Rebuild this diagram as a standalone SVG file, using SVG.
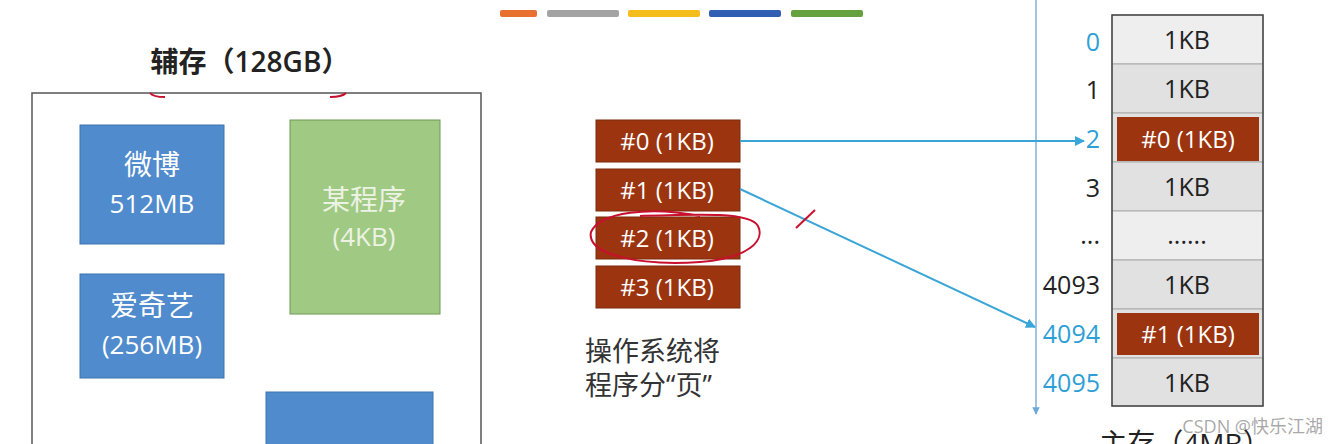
<svg xmlns="http://www.w3.org/2000/svg" width="1338" height="444" viewBox="0 0 1338 444">
<style>
.t{font-family:"Open Sans","Noto Sans CJK SC",sans-serif}
.blue{fill:#4f8bcd;stroke:#3f74ad;stroke-width:1}
.wt{fill:#fff;font-size:26px;text-anchor:middle}
.wc{fill:#fff;font-size:28px;text-anchor:middle}
.pg{fill:#9c3410;stroke:#7a2a0e;stroke-width:1}
.pt{fill:#fff;font-size:24px;text-anchor:middle}
.cell{fill:#e1e1e1;stroke:#aaa;stroke-width:1}
.ct{fill:#222;font-size:25px;text-anchor:middle}
.addr{font-size:25px;text-anchor:end;fill:#222}
.ab{fill:#2e9fd6}
.conn{stroke:#3aa6d8;stroke-width:2;fill:none}
.red{stroke:#c8102e;stroke-width:2;fill:none}
</style>
<defs>
<marker id="ah" viewBox="0 0 10 10" refX="9" refY="5" markerWidth="5" markerHeight="5" orient="auto"><path d="M0,0L10,5L0,10z" fill="#3aa6d8"/></marker>
<marker id="ah2" viewBox="0 0 10 10" refX="9" refY="5" markerWidth="5" markerHeight="5" orient="auto"><path d="M0,0L10,5L0,10z" fill="#6aa8d8"/></marker>
</defs>
<rect width="1338" height="444" fill="#fff"/>
<g id="legend-bars">
<rect x="500" y="10" width="37" height="7" rx="2" fill="#e9712f"/>
<rect x="547" y="10" width="72" height="7" rx="2" fill="#a3a3a3"/>
<rect x="628" y="10" width="72" height="7" rx="2" fill="#f5bd1b"/>
<rect x="709" y="10" width="72" height="7" rx="2" fill="#2f5eb3"/>
<rect x="791" y="10" width="72" height="7" rx="2" fill="#65a13e"/>
</g>
<g id="secondary-storage">
<text class="t" x="250" y="72" font-size="28" font-weight="600" fill="#222" text-anchor="middle">辅存（128GB）</text>
<path d="M32,444V93H481V444" fill="none" stroke="#555" stroke-width="1.5"/>
<path class="red" d="M150,93Q153,97 165,97M330,97Q342,97 346,93"/>
</g>
<g id="weibo"><rect class="blue" x="80" y="125" width="144" height="119"/><text class="t wc" x="152" y="175">微博</text><text class="t wt" x="152" y="213">512MB</text></g>
<g id="iqiyi"><rect class="blue" x="80" y="274" width="144" height="104"/><text class="t wc" x="152" y="316">爱奇艺</text><text class="t wt" x="152" y="354">(256MB)</text></g>
<g id="program"><rect x="290" y="120" width="150" height="194" fill="#a0c983" stroke="#6f9a55" stroke-width="1"/><text class="t wc" x="364" y="210" style="fill:#edf3e4">某程序</text><text class="t wt" x="364" y="246" style="fill:#edf3e4">(4KB)</text></g>
<g id="other-app"><rect class="blue" x="266" y="392" width="167" height="60"/></g>
<g id="pages">
<g id="page0"><rect class="pg" x="596" y="120" width="144" height="42"/><text class="t pt" x="667" y="150">#0 (1KB)</text></g>
<g id="page1"><rect class="pg" x="596" y="169" width="144" height="42"/><text class="t pt" x="667" y="199">#1 (1KB)</text></g>
<g id="page2"><rect class="pg" x="596" y="217" width="144" height="42"/><text class="t pt" x="667" y="247">#2 (1KB)</text></g>
<g id="page3"><rect class="pg" x="596" y="266" width="144" height="42"/><text class="t pt" x="667" y="296">#3 (1KB)</text></g>
<path class="red" d="M700,216C650,206 600,212 591,232C586,255 640,266 700,262C750,258 765,240 758,226C750,212 700,214 640,216"/>
</g>
<g id="caption-pages"><text class="t" font-size="27" fill="#333" x="585" y="361">操作系统将</text><text class="t" font-size="27" fill="#333" x="585" y="395">程序分“页”</text></g>
<g id="connectors">
<line x1="1036" y1="0" x2="1036" y2="414" stroke="#7fb2d9" stroke-width="1.5" marker-end="url(#ah2)"/>
<line class="conn" x1="740" y1="141" x2="1084" y2="141" marker-end="url(#ah)"/>
<line class="conn" x1="740" y1="189" x2="1035" y2="327" marker-end="url(#ah)"/>
<line class="red" x1="796" y1="228" x2="815" y2="210"/>
</g>
<g id="addresses">
<text class="t addr ab" x="1100" y="51">0</text>
<text class="t addr" x="1100" y="99">1</text>
<text class="t addr ab" x="1100" y="148">2</text>
<text class="t addr" x="1100" y="197">3</text>
<text class="t addr" x="1100" y="244">...</text>
<text class="t addr" x="1100" y="294">4093</text>
<text class="t addr ab" x="1100" y="343">4094</text>
<text class="t addr ab" x="1100" y="392">4095</text>
</g>
<g id="main-memory">
<rect class="cell" x="1112" y="15" width="151" height="49" style="fill:#eeeeee"/>
<rect class="cell" x="1112" y="64" width="151" height="49"/>
<rect class="cell" x="1112" y="113" width="151" height="49"/>
<rect class="cell" x="1112" y="162" width="151" height="49"/>
<rect class="cell" x="1112" y="211" width="151" height="49" style="fill:#eeeeee"/>
<rect class="cell" x="1112" y="260" width="151" height="49"/>
<rect class="cell" x="1112" y="309" width="151" height="49"/>
<rect class="cell" x="1112" y="358" width="151" height="48"/>
<rect x="1117" y="117" width="142" height="44" fill="#9c3410"/>
<rect x="1117" y="313" width="142" height="42" fill="#9c3410"/>
<rect x="1112" y="15" width="151" height="391" fill="none" stroke="#444" stroke-width="1.5"/>
<text class="t ct" x="1187" y="49">1KB</text>
<text class="t ct" x="1187" y="98">1KB</text>
<text class="t pt" x="1188" y="148">#0 (1KB)</text>
<text class="t ct" x="1187" y="196">1KB</text>
<text class="t ct" x="1187" y="244">......</text>
<text class="t ct" x="1187" y="294">1KB</text>
<text class="t pt" x="1188" y="343">#1 (1KB)</text>
<text class="t ct" x="1187" y="392">1KB</text>
<text class="t" x="1185" y="454" font-size="28" fill="#222" text-anchor="middle">主存（4MB）</text>
</g>
<text class="t" x="1323" y="433" font-size="18" fill="#999" fill-opacity="0.85" text-anchor="end">CSDN @快乐江湖</text>
</svg>
